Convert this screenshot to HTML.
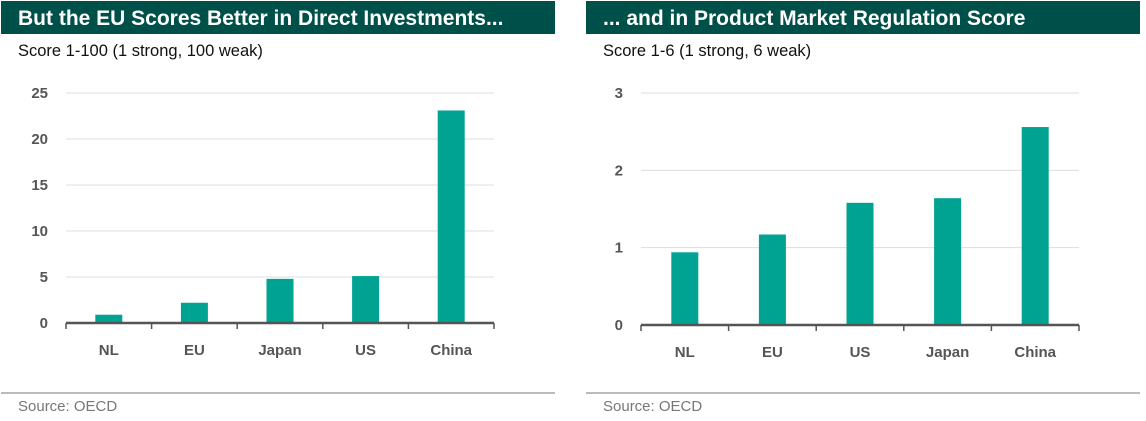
<!DOCTYPE html>
<html><head><meta charset="utf-8"><style>
body{margin:0;background:#fff;width:1146px;height:421px;overflow:hidden;font-family:"Liberation Sans",sans-serif}
svg{display:block}
</style></head><body>
<svg id="s" width="1146" height="421">
<rect x="1" y="1" width="554" height="33" fill="#00504a"/>
<text x="18" y="25" fill="#fff" font-size="21" font-weight="bold">But the EU Scores Better in Direct Investments...</text>
<text x="18" y="56" fill="#111" font-size="16.5">Score 1-100 (1 strong, 100 weak)</text>
<line x1="1" y1="393" x2="555" y2="393" stroke="#bbb" stroke-width="2"/>
<text x="18" y="411" fill="#777" font-size="15">Source: OECD</text>
<rect x="586" y="1" width="554" height="33" fill="#00504a"/>
<text x="603" y="25" fill="#fff" font-size="21" font-weight="bold">... and in Product Market Regulation Score</text>
<text x="603" y="56" fill="#111" font-size="16.5">Score 1-6 (1 strong, 6 weak)</text>
<line x1="586" y1="393" x2="1140" y2="393" stroke="#bbb" stroke-width="2"/>
<text x="603" y="411" fill="#777" font-size="15">Source: OECD</text>
</svg>
<script>
const leftCategories=["NL","EU","Japan","US","China"];
const leftValues=[0.9,2.2,4.8,5.1,23.1];
const leftTicks=[0,5,10,15,20,25];
const rightCategories=["NL","EU","US","Japan","China"];
const rightValues=[0.94,1.17,1.58,1.64,2.56];
const rightTicks=[0,1,2,3];
const NS="http://www.w3.org/2000/svg";
const svg=document.getElementById('s');
function mk(t,a){const e=document.createElementNS(NS,t);for(const k in a)e.setAttribute(k,a[k]);svg.appendChild(e);return e;}
function draw(prefix,cats,vals,ticks,x0,x1,y0,y1,labelX){
  const max=ticks[ticks.length-1];
  const y=v=>y0-(v/max)*(y0-y1);
  const band=(x1-x0)/cats.length;
  ticks.forEach(t=>{
    if(t>0){const g=mk('line',{x1:x0,x2:x1,y1:y(t),y2:y(t),stroke:'#ddd','stroke-width':1});
    
    }
    const l=mk('text',{x:labelX,y:y(t)+5,'text-anchor':'end','font-size':15,'font-weight':'bold',fill:'#555'});
    l.textContent=t;
    
    
  });
  cats.forEach((c,i)=>{
    const cx=x0+band*(i+0.5);
    const b=mk('rect',{x:cx-13.5,y:y(vals[i]),width:27,height:y0-y(vals[i]),fill:'#00a392'});
    
    
    const l=mk('text',{x:cx,y:y0+32,'text-anchor':'middle','font-size':15,'font-weight':'bold',fill:'#555'});
    l.textContent=c;
    
    
  });
  const ax=mk('line',{x1:x0,x2:x1,y1:y0,y2:y0,stroke:'#555','stroke-width':2.5});
  
  
  for(let i=0;i<=cats.length;i++){
    const tx=x0+band*i;
    const tk=mk('line',{x1:tx,x2:tx,y1:y0,y2:y0+6,stroke:'#555','stroke-width':1.5});
    
    
  }
}
draw('left',leftCategories,leftValues,leftTicks,66,494,323,93,48);
draw('right',rightCategories,rightValues,rightTicks,641,1079,325,93,623);
</script>
</body></html>
